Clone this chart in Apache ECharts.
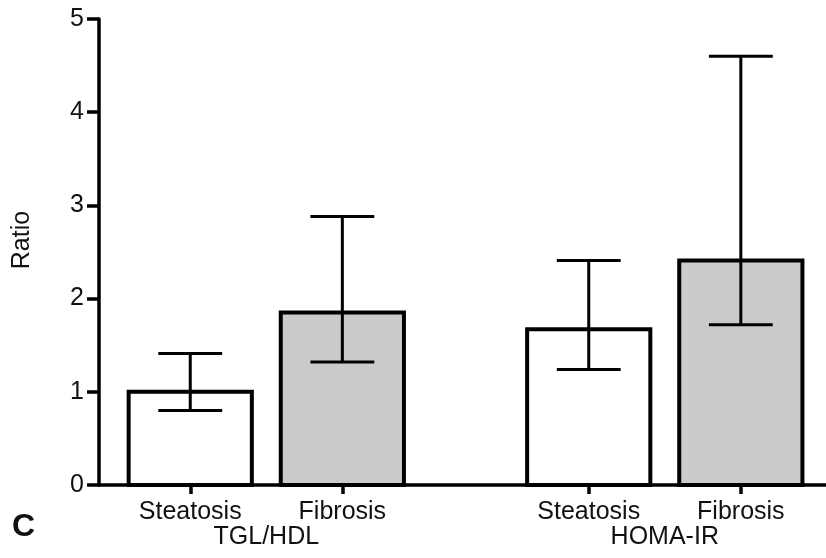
<!DOCTYPE html>
<html>
<head>
<meta charset="utf-8">
<script src="https://cdn.jsdelivr.net/npm/echarts@6/dist/echarts.min.js"></script>
<style>
  html, body { margin: 0; padding: 0; background: #fff; }
  #main { width: 826px; height: 558px; }
</style>
</head>
<body>
<div id="main"></div>
<script>
var groups = ['TGL/HDL', 'HOMA-IR']
var conditions = ['Steatosis', 'Fibrosis']

// per group: [TGL/HDL, HOMA-IR]
var steatosisMean = [1.0, 1.67]
var steatosisLow = [0.8, 1.24]
var steatosisHigh = [1.41, 2.41]
var fibrosisMean = [1.85, 2.41]
var fibrosisLow = [1.32, 1.72]
var fibrosisHigh = [2.88, 4.6]

var yTicks = [0, 1, 2, 3, 4, 5]

var fontFamily = '"Liberation Sans", Arial, sans-serif'

// layout of the slots on the x value axis
function slot (g, c) { return 0.6 + g * 2.62 + c }

var slots = []
var slotNames = []
var groupCenters = []
groups.forEach(function (g, gi) {
  conditions.forEach(function (c, ci) {
    slots.push(slot(gi, ci))
    slotNames.push(c)
  })
  groupCenters.push((slot(gi, 0) + slot(gi, 1)) / 2)
})

function nameAt (values, names, v) {
  for (var i = 0; i < values.length; i++) {
    if (Math.abs(values[i] - v) < 1e-6) return names[i]
  }
  return ''
}

function buildData (mean, low, high, ci) {
  return groups.map(function (g, gi) {
    return [slot(gi, ci), mean[gi], low[gi], high[gi]]
  })
}

function renderBar (fill) {
  return function (params, api) {
    var x = api.value(0)
    var base = api.coord([x, 0])
    var top = api.coord([x, api.value(1)])
    var lo = api.coord([x, api.value(2)])
    var hi = api.coord([x, api.value(3)])
    var w = api.size([0.81, 0])[0]
    var cap = api.size([0.42, 0])[0]
    var lineStyle = { stroke: '#000', lineWidth: 3 }
    return {
      type: 'group',
      children: [
        {
          type: 'rect',
          shape: { x: top[0] - w / 2, y: top[1], width: w, height: base[1] - top[1] },
          style: { fill: fill, stroke: '#000', lineWidth: 4 }
        },
        { type: 'line', shape: { x1: lo[0], y1: lo[1], x2: hi[0], y2: hi[1] }, style: lineStyle },
        { type: 'line', shape: { x1: lo[0] - cap / 2, y1: lo[1], x2: lo[0] + cap / 2, y2: lo[1] }, style: lineStyle },
        { type: 'line', shape: { x1: hi[0] - cap / 2, y1: hi[1], x2: hi[0] + cap / 2, y2: hi[1] }, style: lineStyle }
      ]
    }
  }
}

var chartDom = document.getElementById('main')
var myChart = echarts.init(chartDom)
var option

option = {
  backgroundColor: '#fff',
  animation: false,
  textStyle: { fontFamily: fontFamily },
  title: {
    text: 'C',
    left: 7,
    top: 506,
    textStyle: { fontSize: 32, fontWeight: 'bold', color: '#111', fontFamily: fontFamily }
  },
  grid: { left: 99, right: 0, top: 19, bottom: 73 },
  xAxis: [
    {
      type: 'value',
      min: 0,
      max: 4.78,
      splitLine: { show: false },
      axisLine: { show: true, lineStyle: { color: '#000', width: 3.5 } },
      axisTick: { show: true, customValues: slots, length: 9, lineStyle: { color: '#000', width: 3.5 } },
      axisLabel: {
        customValues: slots,
        margin: 15,
        fontSize: 25,
        color: '#111',
        formatter: function (v) { return nameAt(slots, slotNames, v) }
      }
    },
    {
      type: 'value',
      position: 'bottom',
      min: 0,
      max: 4.78,
      splitLine: { show: false },
      axisLine: { show: false },
      axisTick: { show: false },
      axisLabel: {
        customValues: groupCenters,
        margin: 40,
        fontSize: 25,
        color: '#111',
        formatter: function (v) { return nameAt(groupCenters, groups, v) }
      }
    }
  ],
  yAxis: {
    type: 'value',
    min: yTicks[0],
    max: yTicks[yTicks.length - 1],
    interval: 1,
    name: 'Ratio',
    nameLocation: 'middle',
    nameGap: 64,
    nameTextStyle: { fontSize: 25, color: '#111', padding: [0, 0, 0, 24] },
    splitLine: { show: false },
    axisLine: { show: true, lineStyle: { color: '#000', width: 3.5 } },
    axisTick: { show: true, length: 12, lineStyle: { color: '#000', width: 3.5 } },
    axisLabel: { fontSize: 25, color: '#111', margin: 15 }
  },
  series: [
    {
      name: conditions[0],
      type: 'custom',
      renderItem: renderBar('#ffffff'),
      encode: { x: 0, y: [1, 2, 3] },
      data: buildData(steatosisMean, steatosisLow, steatosisHigh, 0)
    },
    {
      name: conditions[1],
      type: 'custom',
      renderItem: renderBar('#cbcbcb'),
      encode: { x: 0, y: [1, 2, 3] },
      data: buildData(fibrosisMean, fibrosisLow, fibrosisHigh, 1)
    }
  ]
}

option && myChart.setOption(option)
</script>
</body>
</html>
